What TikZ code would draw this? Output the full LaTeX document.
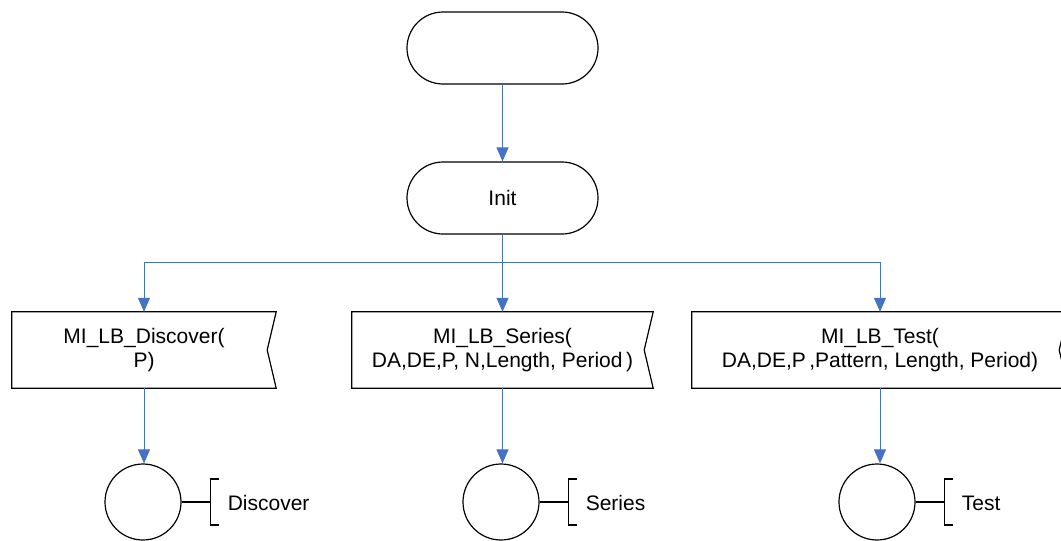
\documentclass[tikz,border=0pt]{standalone}
\usepackage{fontspec}
\setmainfont{Liberation Sans}
\usetikzlibrary{arrows.meta,calc}
\definecolor{connc}{RGB}{68,114,196}
\begin{document}
\begin{tikzpicture}[x=1pt,y=-1pt,
  every node/.style={font=\fontsize{21}{24}\selectfont},
  term/.style={draw, line width=1.2pt, rounded corners=36pt, minimum width=191pt, minimum height=72pt, inner sep=0pt},
  proc/.style={minimum height=76pt, align=center, inner sep=0pt},
  outline/.style={draw, line width=1.2pt, line join=miter},
  circ/.style={draw, circle, minimum size=76pt, line width=1.2pt, inner sep=0pt},
  cline/.style={draw=connc, line width=1pt},
  conn/.style={cline, -{Triangle[length=14pt,width=12pt,fill=connc]}},
  brk/.style={draw, line width=1.6pt},
  lbl/.style={anchor=west, inner sep=0pt}]
\useasboundingbox (0,0) rectangle (1061,541);
\begin{scope}
\clip (0,0) rectangle (1061,541);
% terminals
\node[term] (start) at (502.5,48) {};
\node[term] (init) at (502.5,198) {Init};
% process boxes
\node[proc, minimum width=264pt] (d) at (144,350) {MI\_LB\_Discover(\\P)};
\node[proc, minimum width=301pt] (s) at (502.5,350) {MI\_LB\_Series(\\DA,DE,P, N,Length, Period\,)};
\node[proc, minimum width=376pt] (t) at (880,350) {MI\_LB\_Test(\\DA,DE,P\,,Pattern, Length, Period)};
\foreach \n in {d,s,t}{
  \draw[outline] (\n.north west) -- (\n.north east) -- ($(\n.east)+(-9,0)$) -- (\n.south east) -- (\n.south west) -- cycle;
}
% circles
\node[circ] (cd) at (143,502) {};
\node[circ] (cs) at (501,502) {};
\node[circ] (ct) at (877,502) {};
% connectors
\coordinate (br) at (502.5,262);
\draw[conn] (start) -- (init);
\draw[cline] (init.south) -- (br);
\draw[conn] (br) -| (d.north);
\draw[conn] (br) -- (s.north);
\draw[conn] (br) -| (t.north);
\draw[conn] (d.south) -- (d.south |- cd.north);
\draw[conn] (s.south) -- (s.south |- cs.north);
\draw[conn] (t.south) -- (t.south |- ct.north);
% brackets and labels
\foreach \c/\b/\l/\txt in {cd/bd/ld/Discover, cs/bs/ls/Series, ct/bt/lt/Test}{
  \coordinate (\b) at ($(\c.east)+(29,0)$);
  \draw[outline] (\c.east) -- (\b);
  \draw[brk] ($(\b)+(8,-23)$) -- ($(\b)+(0,-23)$) -- ($(\b)+(0,23)$) -- ($(\b)+(8,23)$);
  \node[lbl] (\l) at ($(\b)+(17,1)$) {\txt};
}
\end{scope}
\end{tikzpicture}
\end{document}
